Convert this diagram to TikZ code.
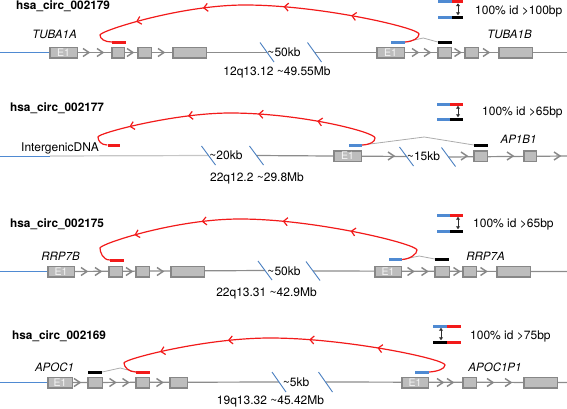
\documentclass[tikz,border=0pt]{standalone}
\usepackage{fontspec}
\setmainfont{TeX Gyre Heros}
\usetikzlibrary{arrows.meta,decorations.markings,backgrounds}
\definecolor{exfill}{HTML}{BDBDBD}
\definecolor{exline}{HTML}{878787}
\definecolor{intr}{HTML}{8C8C8C}
\definecolor{sitebl}{HTML}{4F8AD2}
\definecolor{slashbl}{HTML}{4A7FC0}
\definecolor{bsred}{HTML}{F21A1A}
\begin{document}
\begin{tikzpicture}[x=1pt,y=-1pt,
  every node/.style={font=\fontsize{12}{14}\selectfont,inner sep=0pt},
  exon/.style={draw=exline,fill=exfill,line width=1.5pt,minimum height=10.5pt,minimum width=#1-1.5},
  ex1/.style={exon=#1,text=gray!8,font=\fontsize{10.5}{12}\selectfont},
  bar/.style={minimum height=3pt,minimum width=#1},
  bluebar/.style={bar=#1,fill=sitebl},
  redbar/.style={bar=#1,fill=bsred},
  blkbar/.style={bar=#1,fill=black},
  title/.style={font=\bfseries\fontsize{11.8}{14}\selectfont,anchor=west},
  gene/.style={font=\itshape\fontsize{11.5}{14}\selectfont},
  intron/.style={draw=intr,line width=1.2pt},
  flank/.style={draw=sitebl,line width=1pt},
  chev/.style={draw=exline,line width=1.5pt},
  brk/.style={draw=slashbl,line width=0.9pt},
  splice/.style={draw=gray!65,line width=0.8pt},
  idarrow/.style={draw=gray!35!black,line width=1pt,<->,>={Latex[length=3pt,width=4.5pt]}},
  backsplice/.style={color=bsred,line width=1.2pt,postaction={decorate},
    decoration={markings,
      mark=at position 0.245 with {\arrow{Straight Barb[length=4pt,width=8pt]}},
      mark=at position 0.435 with {\arrow{Straight Barb[length=4pt,width=8pt]}},
      mark=at position 0.66 with {\arrow{Straight Barb[length=4pt,width=8pt]}},
      mark=at position 0.85 with {\arrow{Straight Barb[length=4pt,width=8pt]}}}}]
\useasboundingbox (0,0) rectangle (567,408);

% ---- hsa_circ_002179 ----
\node[title] (t1) at (16,6) {hsa\_circ\_002179};
\node[gene] (g1a) at (54.5,34) {TUBA1A};
\node[gene] (g1b) at (509.5,34) {TUBA1B};
\node[ex1=29] (l1e1) at (63.5,52.5) {E1};
\node[exon=14] (l1e2) at (118,52.5) {};
\node[exon=15] (l1e3) at (144.5,52.5) {};
\node[exon=35] (l1e4) at (189.5,52.5) {};
\node[ex1=29] (r1e1) at (390.5,52.5) {E1};
\node[exon=15] (r1e2) at (444.5,52.5) {};
\node[exon=15] (r1e3) at (471.5,52.5) {};
\node[exon=35] (r1e4) at (515.5,52.5) {};
\node[redbar=14] (red1) at (119,42) {};
\node[bluebar=14] (blue1) at (398,42) {};
\node[blkbar=14] (blk1) at (445,42) {};
\coordinate (o1) at (0,52.5); \coordinate (end1) at (567,52.5);
\coordinate (s1a) at (267,52.5); \coordinate (s1b) at (314.5,52.5);
\node (d1) at (284,52.5) {\textasciitilde50kb};
\node (c1) at (277,72) {12q13.12 \textasciitilde49.55Mb};
\begin{scope}[on background layer]
\draw[flank] (o1) -- (l1e1);
\draw[intron] (l1e1) -- (s1a);
\draw[intron] (s1b) -- (end1);
\end{scope}
\foreach \x in {86,100,130,161,415,427,457.5,486}
  \draw[chev] (\x,52.5) +(-3,-4) -- +(3,0) -- +(-3,4);
\draw[brk] (s1a) +(-7,-10) -- +(7,9.5);
\draw[brk] (s1b) +(-7,-10) -- +(7,9.5);
\draw[splice] (blue1.east) -- ++(18,-4) -- (blk1.west);
\draw[backsplice] (blue1.east) .. controls +(8,-0.5) and +(0,4) .. (419,34)
  .. controls +(0,-6) and +(75,0) .. (245,5)
  .. controls +(-65,0) and +(0,-4) .. (100,35)
  .. controls +(0,4) and +(-7,0) .. (red1.west);
% legend
\node[bluebar=14] (k1a) at (445,1.5) {}; \node[redbar=11] (k1b) at (457.5,1.5) {};
\node[bluebar=14] (k1c) at (445,17) {}; \node[blkbar=11] (k1d) at (457.5,17) {};
\draw[idarrow] (k1b.south -| 458,0) -- (k1d.north -| 458,0);
\node[anchor=west] (k1t) at (475,11) {100\% id >100bp};

% ---- hsa_circ_002177 ----
\node[title] (t2) at (10,108) {hsa\_circ\_002177};
\node (g2a) at (60,148) {IntergenicDNA};
\node[gene] (g2b) at (518.5,139) {AP1B1};
\node[ex1=29] (r2e1) at (347.5,156) {E1};
\node[exon=15] (r2e2) at (480.5,156) {};
\node[exon=14] (r2e3) at (530,156) {};
\node[redbar=12] (red2) at (113.5,145) {};
\node[bluebar=13] (blue2) at (355.5,145) {};
\node[blkbar=14] (blk2) at (481,145) {};
\coordinate (o2) at (0,156); \coordinate (f2) at (50,156); \coordinate (end2) at (567,156);
\coordinate (s2a) at (208.5,155.5); \coordinate (s2b) at (256.5,155.5);
\coordinate (s2c) at (406.5,156.5); \coordinate (s2d) at (448.5,157);
\node (d2a) at (226,155.5) {\textasciitilde20kb};
\node (d2b) at (423.5,156) {\textasciitilde15kb};
\node (c2) at (257,178) {22q12.2 \textasciitilde29.8Mb};
\begin{scope}[on background layer]
\draw[flank] (o2) -- (f2);
\draw[intron,draw=gray!45] (f2) -- (s2a);
\draw[intron] (s2b) -- (s2c);
\draw[intron] (s2d) -- (end2);
\end{scope}
\foreach \x in {391,464,510,557}
  \draw[chev] (\x,156) +(-3,-4) -- +(3,0) -- +(-3,4);
\foreach \s in {s2a,s2b,s2c,s2d}
  \draw[brk] (\s) +(-7,-9.5) -- +(7,9.5);
\draw[splice] (blue2.east) -- ++(62,-8) -- (blk2.west);
\draw[backsplice] (blue2.east) .. controls +(8,-0.5) and +(0,4) .. (375,138)
  .. controls +(0,-6) and +(70,0) .. (230,113)
  .. controls +(-55,0) and +(0,-4) .. (98,137)
  .. controls +(0,4) and +(-6,0) .. (red2.west);
% legend
\node[bluebar=13] (k2a) at (443.5,104) {}; \node[redbar=13] (k2b) at (456.5,104) {};
\node[bluebar=13] (k2c) at (443.5,119) {}; \node[blkbar=13] (k2d) at (456.5,119) {};
\draw[idarrow] (k2b.south -| 458,0) -- (k2d.north -| 458,0);
\node[anchor=west] (k2t) at (482,112) {100\% id >65bp};

% ---- hsa_circ_002175 ----
\node[title] (t3) at (10,224) {hsa\_circ\_002175};
\node[gene] (g3a) at (60.5,256) {RRP7B};
\node[gene] (g3b) at (485.5,256) {RRP7A};
\node[ex1=28] (l3e1) at (61,271.5) {E1};
\node[exon=15] (l3e2) at (115.5,271.5) {};
\node[exon=15] (l3e3) at (142.5,271.5) {};
\node[exon=35] (l3e4) at (187.5,271.5) {};
\node[ex1=28] (r3e1) at (388,271.5) {E1};
\node[exon=16] (r3e2) at (442,271.5) {};
\node[exon=15] (r3e3) at (469.5,271.5) {};
\node[exon=35] (r3e4) at (513.5,271.5) {};
\node[redbar=14] (red3) at (117,260) {};
\node[bluebar=13] (blue3) at (395.5,259.5) {};
\node[blkbar=14] (blk3) at (442,259) {};
\coordinate (o3) at (0,271.5); \coordinate (end3) at (567,271.5);
\coordinate (s3a) at (265,270.5); \coordinate (s3b) at (313,271);
\node (d3) at (284,271.5) {\textasciitilde50kb};
\node (c3) at (266.5,293) {22q13.31 \textasciitilde42.9Mb};
\begin{scope}[on background layer]
\draw[flank] (o3) -- (l3e1);
\draw[intron] (l3e1) -- (s3a);
\draw[intron] (s3b) -- (end3);
\end{scope}
\foreach \x in {84,98,129,160,410.5,424.5,456.5,483.5}
  \draw[chev] (\x,271.5) +(-3,-4) -- +(3,0) -- +(-3,4);
\draw[brk] (s3a) +(-7,-9.5) -- +(7,9.5);
\draw[brk] (s3b) +(-7,-9.5) -- +(7,9.5);
\draw[splice] (blue3.east) -- ++(17,-3.5) -- (blk3.west);
\draw[backsplice] (blue3.east) .. controls +(8,-0.5) and +(0,4) .. (417,250)
  .. controls +(0,-6) and +(75,0) .. (240,219)
  .. controls +(-65,0) and +(0,-4) .. (100,248)
  .. controls +(0,4) and +(-7,0) .. (red3.west);
% legend
\node[bluebar=13] (k3a) at (443.5,215) {}; \node[redbar=13] (k3b) at (456.5,215) {};
\node[bluebar=13] (k3c) at (443.5,231) {}; \node[blkbar=13] (k3d) at (456.5,231) {};
\draw[idarrow] (k3b.south -| 458,0) -- (k3d.north -| 458,0);
\node[anchor=west] (k3t) at (473,224) {100\% id >65bp};

% ---- hsa_circ_002169 ----
\node[title] (t4) at (12,336) {hsa\_circ\_002169};
\node[gene] (g4a) at (54.5,367) {APOC1};
\node[gene] (g4b) at (495,367) {APOC1P1};
\node[ex1=26] (l4e1) at (60,382.5) {E1};
\node[exon=16] (l4e2) at (95,382.5) {};
\node[exon=15] (l4e3) at (142.5,382.5) {};
\node[exon=19] (l4e4) at (178.5,382.5) {};
\node[ex1=28] (r4e1) at (415,382.5) {E1};
\node[exon=15] (r4e2) at (469.5,382.5) {};
\node[exon=35] (r4e3) at (540.5,382.5) {};
\node[blkbar=14] (blk4) at (95,372) {};
\node[redbar=14] (red4) at (143,372) {};
\node[bluebar=14] (blue4) at (422,372) {};
\coordinate (o4) at (0,382.5); \coordinate (end4) at (567,382.5);
\coordinate (s4a) at (279,382); \coordinate (s4b) at (325.5,382);
\node (d4) at (296,382.5) {\textasciitilde5kb};
\node (c4) at (270.5,401) {19q13.32 \textasciitilde45.42Mb};
\begin{scope}[on background layer]
\draw[flank] (o4) -- (l4e1);
\draw[intron] (l4e1) -- (s4a);
\draw[intron] (s4b) -- (end4);
\end{scope}
\foreach \x in {77,112.5,125.5,159.5,440,450,490,508}
  \draw[chev] (\x,382.5) +(-3,-4) -- +(3,0) -- +(-3,4);
\draw[brk] (s4a) +(-7,-10) -- +(7,10);
\draw[brk] (s4b) +(-7,-10) -- +(7,10);
\draw[splice] (blk4.east) -- ++(18,-4) -- (red4.west);
\draw[backsplice] (blue4.east) .. controls +(8,-0.5) and +(0,4) .. (445,365)
  .. controls +(0,-6) and +(75,0) .. (270,338)
  .. controls +(-65,0) and +(0,-4) .. (124,363)
  .. controls +(0,4) and +(-7,0) .. (red4.west);
% legend
\node[bluebar=14] (k4a) at (440,326) {}; \node[redbar=14] (k4b) at (454,326) {};
\node[blkbar=14] (k4c) at (440,342) {}; \node[redbar=14] (k4d) at (454,342) {};
\draw[idarrow] (k4a.south -| 441,0) -- (k4c.north -| 441,0);
\node[anchor=west] (k4t) at (470,336) {100\% id >75bp};
\end{tikzpicture}
\end{document}
